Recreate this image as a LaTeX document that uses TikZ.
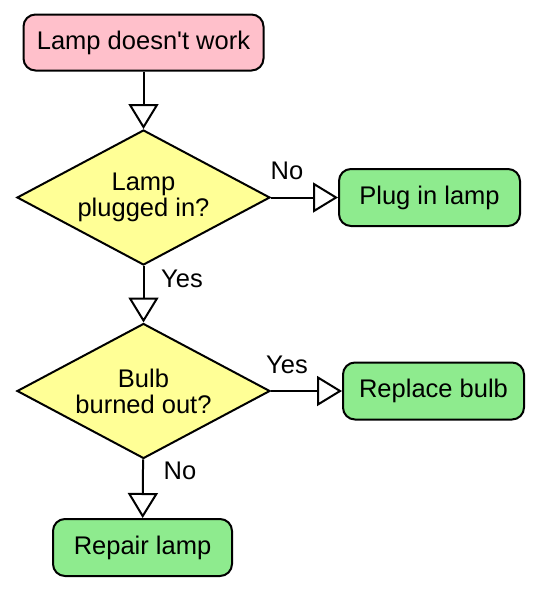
\documentclass[tikz,border=0pt]{standalone}
\usepackage{fontspec}
\setmainfont{Liberation Sans}
\usepackage{xcolor}
\usepackage{tikz}
\usetikzlibrary{arrows.meta, positioning, shapes.geometric}

\definecolor{startpink}{HTML}{FFC0CB}
\definecolor{askyellow}{HTML}{FFFF96}
\definecolor{dogreen}{HTML}{8EEB8E}

\begin{document}
\begin{tikzpicture}[x=0.5pt, y=-0.5pt,
		every node/.style={font=\fontsize{12.75}{13}\selectfont},
		startbox/.style={draw, line width=1pt, fill=startpink, rounded corners=6pt, minimum width=120pt, minimum height=28pt, inner sep=0pt},
		actionbox/.style={draw, line width=1pt, fill=dogreen, rounded corners=6pt, minimum width=90.5pt, minimum height=28.5pt, inner sep=0pt},
		decision/.style={draw, line width=1pt, fill=askyellow, diamond, aspect=1.874, minimum width=126.5pt, minimum height=67.5pt, inner sep=0pt, align=center},
		flow/.style={line width=1pt, -{Triangle[open, width=15pt, length=12.5pt]}},
		answer/.style={inner sep=0pt}]
	\useasboundingbox (0,0) rectangle (536,590);
	% boxes
	\node[startbox] (lamp) at (143.5,42.5) {Lamp doesn\textquotesingle t work};
	\node[decision] (plugged) at (143.5,197.5) {Lamp\\plugged in?};
	\node[actionbox] (plugin) at (429.5,197.5) {Plug in lamp};
	\node[decision] (bulb) at (143.5,391) {Bulb\\burned out?};
	\node[actionbox] (replace) at (433.5,391) {Replace bulb};
	\node[actionbox, minimum width=89.5pt] (repair) at (142.5,547.5) {Repair lamp};
	% connectors
	\draw[flow] (lamp) -- (plugged);
	\draw[flow] (plugged) -- (plugin);
	\draw[flow] (plugged) -- (bulb);
	\draw[flow] (bulb) -- (replace);
	\draw[flow] (bulb) -- (repair);
	% answers
	\node[answer] (noplug) at (287,171) {No};
	\node[answer] (yesplug) at (182,279) {Yes};
	\node[answer] (yesbulb) at (287,365) {Yes};
	\node[answer] (nobulb) at (180,471) {No};
\end{tikzpicture}
\end{document}
